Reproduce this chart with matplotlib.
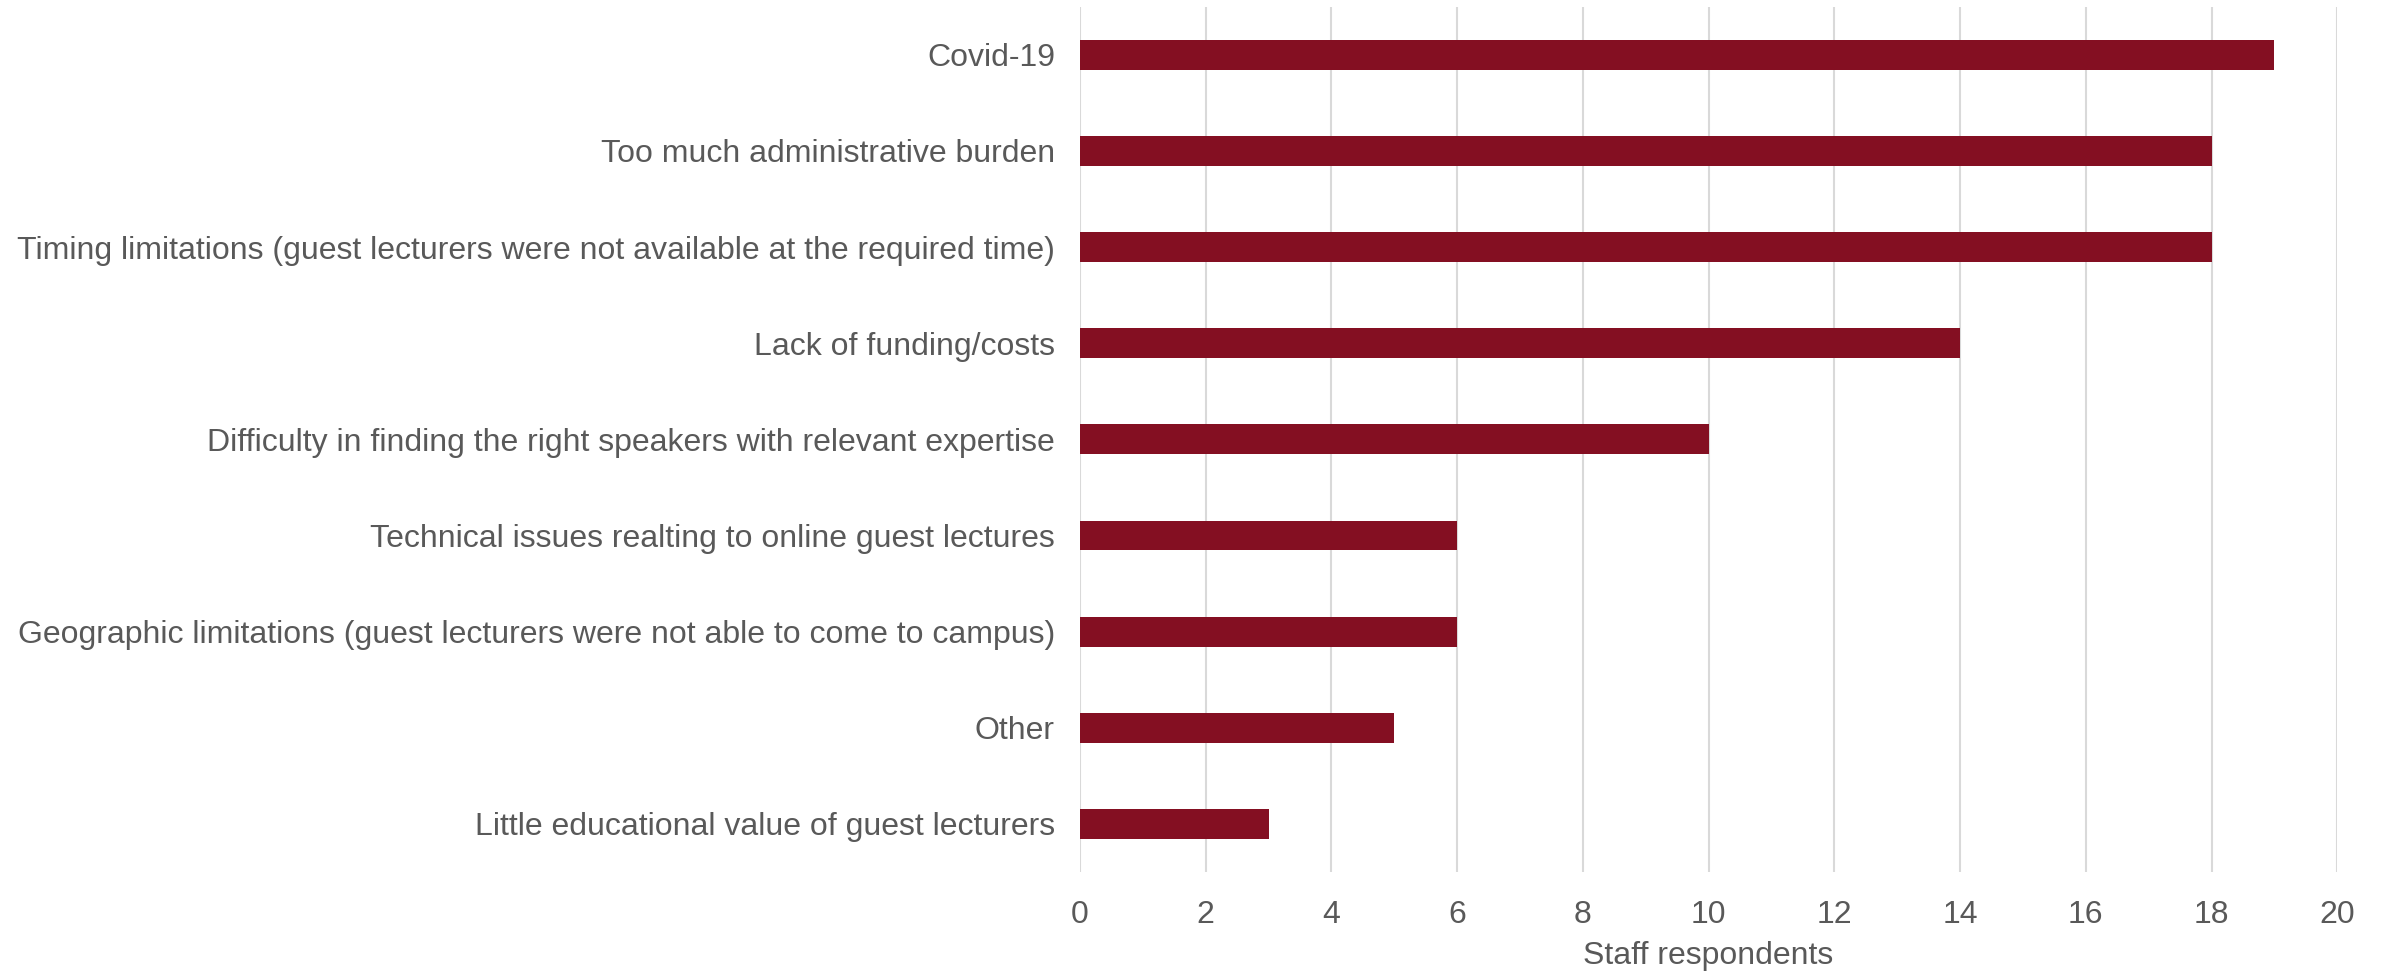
import matplotlib.pyplot as plt

plt.rcParams['font.family'] = ['Liberation Sans', 'DejaVu Sans']

categories = [
    "Covid-19",
    "Too much administrative burden",
    "Timing limitations (guest lecturers were not available at the required time)",
    "Lack of funding/costs",
    "Difficulty in finding the right speakers with relevant expertise",
    "Technical issues realting to online guest lectures",
    "Geographic limitations (guest lecturers were not able to come to campus)",
    "Other",
    "Little educational value of guest lecturers",
]
counts = [19, 18, 18, 14, 10, 6, 6, 5, 3]
xticks = list(range(0, 21, 2))

text_color = '#595959'
bar_color = '#840F22'

fig = plt.figure(figsize=(23.86, 9.71), dpi=100)
ax = fig.add_axes([0.4526, 0.102, 0.527, 0.891])

ypos = list(range(len(categories)))
ax.barh(ypos, counts, height=0.31, color=bar_color, zorder=3)
ax.set_yticks(ypos)
ax.set_yticklabels(categories)
ax.set_ylim(len(categories) - 0.5, -0.5)

ax.set_xlim(0, 20)
ax.set_xticks(xticks)
ax.grid(axis='x', color='#D9D9D9', linewidth=1.5, zorder=0)
ax.set_xlabel("Staff respondents", fontsize=23, color=text_color, labelpad=8)

for s in ax.spines.values():
    s.set_visible(False)
ax.tick_params(axis='both', length=0, labelsize=23, colors=text_color)
ax.tick_params(axis='y', pad=18)
ax.tick_params(axis='x', pad=20)

fig.savefig("out.png", dpi=100)
